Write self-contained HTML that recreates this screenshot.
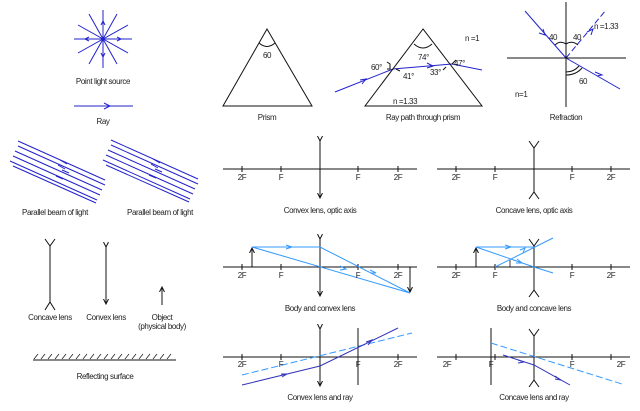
<!DOCTYPE html><html><head><style>body{margin:0;background:#fff}svg{display:block}text{font-family:"Liberation Sans",sans-serif;font-size:8px;fill:#222;letter-spacing:-0.4px}</style></head><body>
<svg width="640" height="411" viewBox="0 0 640 411" xmlns="http://www.w3.org/2000/svg">
<defs>
<marker id="ak" markerWidth="6" markerHeight="6" refX="5" refY="3" orient="auto" markerUnits="userSpaceOnUse"><path d="M0,0.5 L5,3 L0,5.5" fill="none" stroke="#111" stroke-width="1"/></marker>
</defs>
<g stroke="#2222cc" stroke-width="1" fill="none">
<g transform="translate(103,39)">
<line x1="-29" y1="0" x2="29" y2="0"/><line x1="0" y1="-29" x2="0" y2="29"/>
<line x1="-14" y1="-25" x2="14" y2="25"/><line x1="14" y1="-25" x2="-14" y2="25"/>
<line x1="-25" y1="-14" x2="25" y2="14"/><line x1="25" y1="-14" x2="-25" y2="14"/>
<path d="M-2,-14 L0,-18 L2,-14 M-2,14 L0,18 L2,14 M-14,-2 L-18,0 L-14,2 M14,-2 L18,0 L14,2"/>
</g>
<line x1="74" y1="106" x2="133" y2="106"/><path d="M104,103 L110,106 L104,109"/>
<g id="pb"><line x1="18" y1="146" x2="105" y2="185"/><line x1="15" y1="151" x2="102" y2="190"/><line x1="13" y1="156" x2="100" y2="195"/><line x1="10" y1="161" x2="97" y2="200"/><line x1="18" y1="141" x2="105" y2="180"/><line x1="13" y1="166" x2="96" y2="203"/>
<path d="M58,165 l7,4 M60,160 l7,4 M62,170 l7,3 M56,176 l7,3"/></g>
<use href="#pb" transform="translate(93,-1)"/>
<line x1="525" y1="11" x2="566" y2="58"/><path d="M543,29 l2,6 l-6,-2"/>
<line x1="566" y1="58" x2="606" y2="10" stroke-dasharray="6,3"/><path d="M587,32 l6,-3 l-2,6"/>
<line x1="566" y1="58" x2="620" y2="89"/><path d="M595,72 l7,3 l-5,1"/>
<polyline points="335,92 393,69 452,64 482,70"/><path d="M360,80 l6,-1 l-4,5 M427,63 l6,3 l-6,2"/>
</g>
<g stroke="#111" stroke-width="1" fill="none">
<path d="M267,29 L223,106 L312,106 Z"/><path d="M259,43 Q267,50 275,43"/>
<path d="M423,29 L365,106 L482,106 Z"/><path d="M414,44 Q423,52 432,44"/>
<line x1="566" y1="2" x2="566" y2="107"/><line x1="507" y1="58" x2="626" y2="58"/>
<path d="M555,45 Q560,40 566,44 Q572,40 578,45"/><path d="M566,72 Q574,72 579,66 M566,75 Q576,75 582,68"/>
<path d="M387,62 l3,2 l0,5 l-3,0 M396,69 l4,2 M456,60 l-4,4 M446,67 l-3,3"/>
<line x1="50" y1="246" x2="50" y2="302"/><path d="M45,239 L50,246 L55,239 M45,310 L50,302 L55,310"/>
<line x1="106" y1="247" x2="106" y2="304" marker-end="url(#ak)" marker-start="url(#ak)"/>
<line x1="162" y1="305" x2="162" y2="287" marker-end="url(#ak)"/>
<line x1="33" y1="360" x2="176" y2="360"/>
<path d="M34,359 l4,-5 M41,359 l4,-5 M48,359 l4,-5 M55,359 l4,-5 M62,359 l4,-5 M69,359 l4,-5 M76,359 l4,-5 M83,359 l4,-5 M90,359 l4,-5 M97,359 l4,-5 M104,359 l4,-5 M111,359 l4,-5 M118,359 l4,-5 M125,359 l4,-5 M132,359 l4,-5 M139,359 l4,-5 M146,359 l4,-5 M153,359 l4,-5 M160,359 l4,-5 M167,359 l4,-5" stroke-width="0.7"/>
<g id="cx"><line x1="223" y1="169" x2="417" y2="169"/><path d="M242,166v6M281,166v6M358,166v6M398,166v6"/></g>
<line x1="320" y1="141" x2="320" y2="198" marker-end="url(#ak)" marker-start="url(#ak)"/>
<g id="cc"><line x1="437" y1="169" x2="630" y2="169"/><path d="M456,166v6M495,166v6M572,166v6M611,166v6"/><line x1="534" y1="148" x2="534" y2="192"/><path d="M529,141 L534,148 L539,141 M529,199 L534,192 L539,199"/></g>
<use href="#cx" transform="translate(0,98)"/><use href="#cc" transform="translate(0,98)"/>
<use href="#cx" transform="translate(0,188)"/><use href="#cc" transform="translate(0,188)"/>
<line x1="320" y1="239" x2="320" y2="296" marker-end="url(#ak)" marker-start="url(#ak)"/>
<line x1="320" y1="329" x2="320" y2="386" marker-end="url(#ak)" marker-start="url(#ak)"/>
<line x1="252" y1="267" x2="252" y2="248" marker-end="url(#ak)"/>
<line x1="410" y1="267" x2="410" y2="292" marker-end="url(#ak)"/>
<line x1="476" y1="267" x2="476" y2="248" marker-end="url(#ak)"/>
<line x1="510" y1="267" x2="510" y2="260" stroke-width="0.8"/>
<line x1="358" y1="328" x2="358" y2="385"/><line x1="491" y1="328" x2="491" y2="385"/>
</g>
<g stroke="#3399ff" stroke-width="1" fill="none">
<polyline points="252,247 320,247 410,293"/><line x1="252" y1="247" x2="410" y2="293"/>
<path d="M286,245 l6,2 l-6,2 M370,270 l6,3 l-6,0 M340,266 l6,3 l-6,1"/>
<polyline points="476,247 534,247"/><line x1="495" y1="267" x2="553" y2="238"/><polyline points="476,247 534,267 553,273"/>
<path d="M505,245 l6,2 l-6,2 M516,263 l6,0 l-5,-4 M520,250 l5,-2 l-2,5"/>
<line x1="242" y1="375" x2="412" y2="333" stroke-dasharray="7,3"/>
<line x1="491" y1="343" x2="622" y2="384" stroke-dasharray="7,3"/>
</g>
<g stroke="#3333bb" stroke-width="1" fill="none">
<polyline points="242,385 320,366 398,328"/><path d="M281,374 l6,0 l-5,3 M366,342 l6,-2 l-4,5"/>
<polyline points="503,355 534,365 570,385"/><path d="M518,360 l6,2 l-6,1 M555,376 l6,4 l-6,-1"/>
</g>
<g text-anchor="middle">
<text x="103" y="84">Point light source</text><text x="103" y="124">Ray</text>
<text x="267" y="58">60</text><text x="267" y="120">Prism</text>
<text x="423" y="120">Ray path through prism</text><text x="566" y="120">Refraction</text>
<text x="55" y="215">Parallel beam of light</text><text x="160" y="215">Parallel beam of light</text>
<text x="50" y="320">Concave lens</text><text x="106" y="320">Convex lens</text><text x="162" y="320">Object</text><text x="162" y="329">(physical body)</text>
<text x="105" y="379">Reflecting surface</text>
<text x="320" y="213">Convex lens, optic axis</text><text x="534" y="213">Concave lens, optic axis</text>
<text x="320" y="311">Body and convex lens</text><text x="534" y="311">Body and concave lens</text>
<text x="320" y="400">Convex lens and ray</text><text x="534" y="400">Concave lens and ray</text>
<g style="font-size:7px">
<text x="242" y="180">2F</text><text x="281" y="180">F</text><text x="358" y="180">F</text><text x="398" y="180">2F</text>
<text x="456" y="180">2F</text><text x="495" y="180">F</text><text x="572" y="180">F</text><text x="611" y="180">2F</text>
<text x="242" y="278">2F</text><text x="281" y="278">F</text><text x="358" y="278">F</text><text x="398" y="278">2F</text>
<text x="456" y="278">2F</text><text x="495" y="278">F</text><text x="572" y="278">F</text><text x="611" y="278">2F</text>
<text x="242" y="367">2F</text><text x="281" y="367">F</text><text x="358" y="367">F</text><text x="398" y="367">2F</text>
<text x="447" y="367">2F</text><text x="491" y="367">F</text><text x="572" y="367">F</text><text x="621" y="367">2F</text>
</g></g>
<text x="465" y="41">n =1</text><text x="393" y="104">n =1.33</text>
<text x="418" y="60">74°</text><text x="371" y="70">60°</text><text x="403" y="79">41°</text><text x="430" y="75">33°</text><text x="454" y="66">47°</text>
<text x="549" y="40">40</text><text x="573" y="40">40</text><text x="594" y="29">n =1.33</text><text x="579" y="84">60</text><text x="515" y="97">n=1</text>
</svg></body></html>
